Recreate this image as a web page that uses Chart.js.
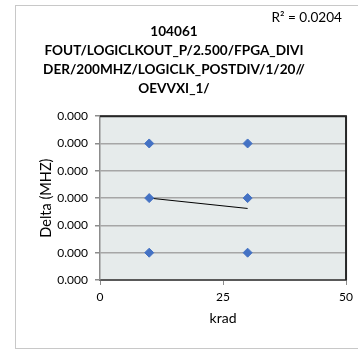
<!DOCTYPE html>
<html>
<head>
<meta charset="utf-8">
<script src="https://cdn.jsdelivr.net/npm/chart.js@4.4.1/dist/chart.umd.min.js"></script>
<style>
  html, body { margin: 0; padding: 0; background: #fff; }
  #wrap { position: relative; width: 358px; height: 349px; overflow: hidden; }
  #frame { position: absolute; left: 15px; top: 5px; width: 400px; height: 342px; border: 1px solid #c8c8c8; }
  canvas { position: absolute; left: 0; top: 0; }
</style>
</head>
<body>
<div id="wrap">
  <div id="frame"></div>
  <canvas id="chart" width="358" height="349"></canvas>
</div>
<script>
const titleLines = ['104061', 'FOUT/LOGICLKOUT_P/2.500/FPGA_DIVI', 'DER/200MHZ/LOGICLK_POSTDIV/1/20//', 'OEVVXI_1/'];
const rSquared = 'R\u00B2 = 0.0204';
const pointX = [10, 10, 10, 30, 30, 30];
const pointY = [0.00025, 0.00015, 0.00005, 0.00025, 0.00015, 0.00005];
const trendX = [10, 30];
const trendY = [0.00015, 0.000131];
const xTicks = [0, 25, 50];
const yMin = 0, yMax = 0.0003, yStep = 0.00005;

const FONT = 'Lato, "Open Sans", sans-serif';

const plotDecor = {
    id: 'plotDecor',
    beforeDraw(chart) {
        const { ctx, chartArea: a } = chart;
        ctx.save();
        ctx.fillStyle = '#e6ebeb';
        ctx.fillRect(a.left, a.top, a.right - a.left, a.bottom - a.top);
        ctx.restore();
    },
    afterDraw(chart) {
        const { ctx, chartArea: a } = chart;
        ctx.save();
        ctx.strokeStyle = '#262626';
        ctx.lineWidth = 2;
        ctx.beginPath();
        ctx.moveTo(a.left, a.top);
        ctx.lineTo(a.right, a.top);
        ctx.lineTo(a.right, a.bottom);
        ctx.stroke();
        ctx.fillStyle = '#000';
        ctx.font = '13.6px ' + FONT;
        ctx.textAlign = 'right';
        ctx.textBaseline = 'middle';
        ctx.fillText(rSquared, 342, 18);
        ctx.restore();
    }
};

new Chart(document.getElementById('chart'), {
    type: 'scatter',
    data: {
        datasets: [
            {
                label: 'Delta',
                data: pointX.map((x, i) => ({ x, y: pointY[i] })),
                pointStyle: 'rectRot',
                pointRadius: 4.5,
                backgroundColor: '#4472c4',
                borderColor: '#4472c4',
                showLine: false,
            },
            {
                label: 'Trend',
                data: trendX.map((x, i) => ({ x, y: trendY[i] })),
                showLine: true,
                pointRadius: 0,
                borderColor: '#000',
                borderWidth: 1,
            },
        ],
    },
    options: {
        responsive: false,
        animation: false,
        layout: { padding: { left: 0, right: 10, top: 0, bottom: 21 } },
        plugins: {
            legend: { display: false },
            tooltip: { enabled: false },
            title: {
                display: true,
                text: titleLines,
                color: '#000',
                font: { family: FONT, size: 13.6, weight: 'bold', lineHeight: 1.4 },
                padding: { top: 22, bottom: 18 },
            },
        },
        scales: {
            x: {
                type: 'linear',
                min: 0,
                max: 50,
                afterBuildTicks: (s) => { s.ticks = xTicks.map(v => ({ value: v })); },
                afterFit: (s) => { s.height = 48; },
                grid: { drawOnChartArea: false, drawTicks: true, tickLength: 5, tickColor: '#8c8c8c' },
                border: { color: '#595959', width: 2 },
                ticks: { color: '#000', font: { family: FONT, size: 12 }, padding: 5, maxRotation: 0 },
                title: { display: true, text: 'krad', color: '#000', font: { family: FONT, size: 14 }, padding: { top: 0, bottom: 1 } },
            },
            y: {
                min: yMin,
                max: yMax,
                afterFit: (s) => { s.width = 100; },
                grid: { color: '#a6a6a6', lineWidth: 1.5, tickLength: 5, tickColor: '#8c8c8c' },
                border: { color: '#8c8c8c', width: 1.5 },
                ticks: {
                    stepSize: yStep,
                    color: '#000',
                    font: { family: FONT, size: 12 },
                    padding: 7,
                    callback: (v) => v.toFixed(3),
                },
                title: { display: true, text: 'Delta (MHZ)', color: '#000', font: { family: FONT, size: 14.5 }, padding: { top: 38, bottom: 0 } },
            },
        },
    },
    plugins: [plotDecor],
});
</script>
</body>
</html>
